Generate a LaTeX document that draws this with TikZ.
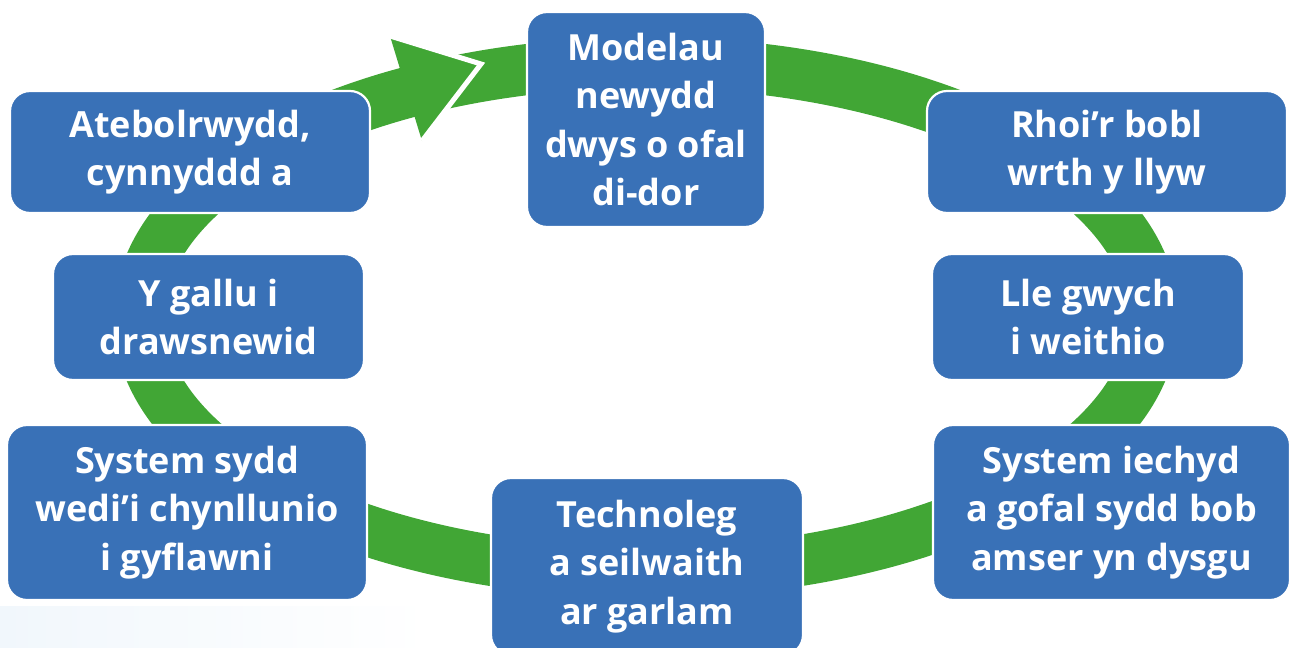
\documentclass[tikz,border=0pt]{standalone}
\usepackage{fontspec}
\setmainfont{Open Sans}
\usetikzlibrary{fadings}
\definecolor{boxblue}{RGB}{57,113,183}
\definecolor{ringgreen}{RGB}{65,166,53}
\definecolor{faintblue}{RGB}{241,247,252}
\tikzset{
  stage/.style={draw=white, line width=2.2pt, fill=boxblue, rounded corners=20pt,
    text=white, align=center, inner sep=0pt,
    font=\fontsize{36}{48.5}\selectfont\bfseries},
  ring/.style={draw=ringgreen, line width=51pt},
}
\begin{document}
\begin{tikzpicture}[x=1pt,y=-1pt]
\useasboundingbox (0,0) rectangle (1291,648);
\clip (0,0) rectangle (1291,648);
\fill[faintblue, path fading=east] (0,606) rectangle (430,648);
% green cycle band
\coordinate (c) at (646,317.5);
\draw[ring] (c) ellipse [x radius=507pt, y radius=255pt];
% arrow head
\coordinate (arrA) at (390,36);
\coordinate (arrT) at (481,64);
\coordinate (arrB) at (422,141);
\fill[ringgreen] (arrA) -- (arrT) -- (arrB) -- cycle;
\draw[white, line width=5pt] (arrA) -- (arrT) -- (arrB);
% stages
\node[stage, minimum width=238pt, minimum height=215pt] (modelau) at (646,119.5) {Modelau\\newydd\\dwys o ofal\\di-dor};
\node[stage, minimum width=360pt, minimum height=122pt] (rhoi) at (1107,152) {Rhoi’r bobl\\wrth y llyw};
\node[stage, minimum width=312pt, minimum height=126pt] (lle) at (1088,317) {Lle gwych\\i weithio};
\node[stage, minimum width=357pt, minimum height=175pt] (iechyd) at (1111.5,512.5) {System iechyd\\a gofal sydd bob\\amser yn dysgu};
\node[stage, minimum width=312pt, minimum height=177pt] (tech) at (647,566.5) {Technoleg\\a seilwaith\\ar garlam};
\node[stage, minimum width=360pt, minimum height=175pt] (sydd) at (187,512.5) {System sydd\\wedi’i chynllunio\\i gyflawni};
\node[stage, minimum width=311pt, minimum height=126pt] (gallu) at (208.5,317) {Y gallu i\\drawsnewid};
\node[stage, minimum width=360pt, minimum height=122pt] (ateb) at (190,152) {Atebolrwydd,\\cynnyddd a};
\end{tikzpicture}
\end{document}
